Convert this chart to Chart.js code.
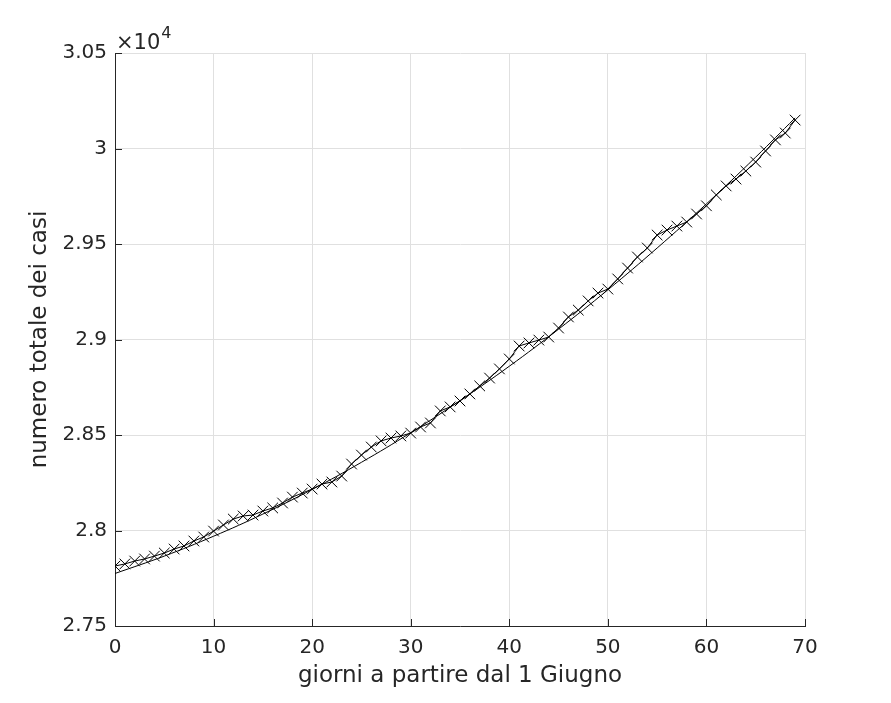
<!DOCTYPE html>
<html>
<head>
<meta charset="utf-8">
<script src="https://cdn.jsdelivr.net/npm/chart.js@4"></script>
<style>
  html, body { margin: 0; padding: 0; background: #fff; }
  #wrap { width: 891px; height: 703px; }
</style>
</head>
<body>
<div id="wrap"><canvas id="chart" width="891" height="703"></canvas></div>
<script>
// giorni (asse x) e casi totali
const days = [0, 1, 2, 3, 4, 5, 6, 7, 8, 9, 10, 11, 12, 13, 14, 15, 16, 17, 18, 19,
  20, 21, 22, 23, 24, 25, 26, 27, 28, 29, 30, 31, 32, 33, 34, 35, 36, 37, 38, 39,
  40, 41, 42, 43, 44, 45, 46, 47, 48, 49, 50, 51, 52, 53, 54, 55, 56, 57, 58, 59,
  60, 61, 62, 63, 64, 65, 66, 67, 68, 69];
const cases = [27814, 27825, 27840, 27851, 27866, 27882, 27903, 27919, 27945, 27966,
  27997, 28029, 28060, 28076, 28081, 28102, 28118, 28144, 28175, 28196,
  28217, 28243, 28254, 28285, 28348, 28395, 28437, 28469, 28484, 28495,
  28510, 28542, 28563, 28626, 28647, 28678, 28715, 28757, 28798, 28846,
  28898, 28966, 28982, 28997, 29013, 29060, 29118, 29154, 29202, 29243,
  29264, 29317, 29374, 29432, 29479, 29547, 29573, 29594, 29615, 29657,
  29700, 29757, 29804, 29840, 29882, 29929, 29987, 30045, 30081, 30149];

// curva di fit
const fitDays = [0, 5, 10, 15, 20, 25, 30, 35, 40, 45, 50, 55, 60, 65, 69];
const fitCases = [27775, 27866, 27970, 28086, 28215, 28357, 28512, 28680, 28860, 29054, 29260, 29479, 29710, 29955, 30160];

const xTicks = [0, 10, 20, 30, 40, 50, 60, 70];
const yTicks = [27500, 28000, 28500, 29000, 29500, 30000, 30500];

const textColor = '#262626';
const gridColor = '#e0e0e0';
const fontFamily = "'DejaVu Sans', sans-serif";

// tacche interne e moltiplicatore x10^4
const matlabAxes = {
  id: 'matlabAxes',
  afterDraw(chart) {
    const ctx = chart.ctx;
    const x = chart.scales.x, y = chart.scales.y;
    const area = chart.chartArea;
    ctx.save();
    ctx.strokeStyle = textColor;
    ctx.lineWidth = 1;
    ctx.beginPath();
    xTicks.forEach(v => {
      const px = Math.round(x.getPixelForValue(v)) + 0.5;
      ctx.moveTo(px, area.bottom);
      ctx.lineTo(px, area.bottom - 7);
    });
    yTicks.forEach(v => {
      const py = Math.round(y.getPixelForValue(v)) + 0.5;
      ctx.moveTo(area.left, py);
      ctx.lineTo(area.left + 7, py);
    });
    ctx.stroke();
    ctx.fillStyle = textColor;
    ctx.textBaseline = 'alphabetic';
    ctx.textAlign = 'left';
    ctx.font = '21px ' + fontFamily;
    ctx.fillText('\u00d710', area.left + 1, area.top - 4);
    const w = ctx.measureText('\u00d710').width;
    ctx.font = '16px ' + fontFamily;
    ctx.fillText('4', area.left + 2 + w, area.top - 15);
    ctx.restore();
  }
};

new Chart(document.getElementById('chart'), {
  type: 'line',
  data: {
    datasets: [{
      label: 'dati',
      data: days.map((d, i) => ({ x: d, y: cases[i] })),
      borderColor: '#000',
      borderWidth: 1,
      pointStyle: 'crossRot',
      pointRadius: 7.5,
      pointBorderColor: '#000',
      pointBorderWidth: 1,
      fill: false,
      tension: 0
    }, {
      label: 'fit',
      data: fitDays.map((d, i) => ({ x: d, y: fitCases[i] })),
      borderColor: '#000',
      borderWidth: 1,
      pointRadius: 0,
      fill: false,
      tension: 0.4
    }]
  },
  options: {
    responsive: false,
    animation: false,
    layout: { padding: { top: 53, right: 86, left: 0, bottom: 0 } },
    plugins: {
      legend: { display: false },
      tooltip: { enabled: false }
    },
    scales: {
      x: {
        type: 'linear',
        min: 0,
        max: 70,
        afterBuildTicks: s => { s.ticks = xTicks.map(v => ({ value: v })); },
        afterFit: s => { s.height = 77; },
        grid: { color: gridColor, drawTicks: false },
        border: { display: true, color: textColor, width: 1 },
        ticks: { color: textColor, padding: 10, font: { family: fontFamily, size: 20 } },
        title: {
          display: true,
          text: 'giorni a partire dal 1 Giugno',
          color: textColor,
          font: { family: fontFamily, size: 23 },
          padding: { top: 0, bottom: 13 }
        }
      },
      y: {
        type: 'linear',
        min: 27500,
        max: 30500,
        afterBuildTicks: s => { s.ticks = yTicks.map(v => ({ value: v })); },
        afterFit: s => { s.width = 115; },
        grid: { color: gridColor, drawTicks: false },
        border: { display: true, color: textColor, width: 1 },
        ticks: {
          color: textColor,
          padding: 8,
          font: { family: fontFamily, size: 20 },
          callback: v => String(parseFloat((v / 10000).toFixed(3)))
        },
        title: {
          display: true,
          text: 'numero totale dei casi',
          color: textColor,
          font: { family: fontFamily, size: 23 },
          padding: { top: 26, bottom: 0 }
        }
      }
    }
  },
  plugins: [matlabAxes]
});
</script>
</body>
</html>
